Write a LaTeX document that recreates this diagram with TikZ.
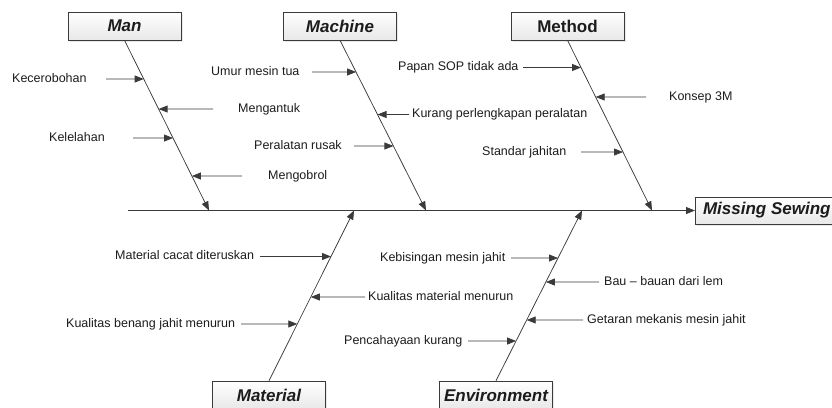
\documentclass[tikz,border=0pt]{standalone}
\usepackage{fontspec}
\setmainfont{Liberation Sans}
\usetikzlibrary{arrows.meta,shadows}
\definecolor{lncol}{HTML}{3A3A3A}
\definecolor{txcol}{HTML}{1C1C1C}
\begin{document}
\begin{tikzpicture}[x=1pt,y=-1pt,
  line/.style={draw=lncol,line width=0.75pt},
  arr/.style={line,-{Triangle[length=9pt,width=7pt]}},
  headbox/.style={draw=lncol,line width=0.6pt,top color=white,bottom color=black!9,
    minimum width=113pt,minimum height=28pt,inner sep=0pt,text=txcol,
    font=\fontsize{17}{20}\selectfont\bfseries\itshape,
    drop shadow={opacity=0.18,shadow xshift=1.5pt,shadow yshift=-1.5pt}},
  lbl/.style={anchor=west,inner sep=0pt,text=txcol,text height=9pt,text depth=2.5pt,
    font=\fontsize{12.5}{14}\selectfont}]
\useasboundingbox (0,0) rectangle (832,407);

% category boxes
\node[headbox] (man) at (124.5,26) {Man};
\node[headbox] (mach) at (340,26) {Machine};
\node[headbox,font=\fontsize{17}{20}\selectfont\bfseries] (meth) at (567.5,26) {Method};
\node[headbox] (mat) at (269,395) {Material};
\node[headbox] (env) at (496,395) {Environment};
\node[headbox,anchor=west,minimum width=143pt,minimum height=27pt] (eff) at (695,210.5) {Missing Sewing};

% spine
\coordinate (sp0) at (128,210.5);
\coordinate (manB) at (209,210.5);
\coordinate (machB) at (426,210.5);
\coordinate (methB) at (652,210.5);
\coordinate (matB) at (354,210.5);
\coordinate (envB) at (582,210.5);
\draw[arr] (sp0) -- (eff.west);

% bones
\draw[arr] (man.south) -- (manB);
\draw[arr] (mach.south) -- (machB);
\draw[arr] (meth.south) -- (methB);
\draw[arr] (mat.north) -- (matB);
\draw[arr] (env.north) -- (envB);

% Man
\node[lbl] (c1) at (12,79) {Kecerobohan};
\coordinate (t1) at (106,79);
\draw[arr] (t1) -- (intersection of t1--c1 and man.south--manB);
\node[lbl] (c2) at (238,109) {Mengantuk};
\coordinate (t2) at (213,109);
\draw[arr] (t2) -- (intersection of t2--c2 and man.south--manB);
\node[lbl] (c3) at (49,138) {Kelelahan};
\coordinate (t3) at (133,138);
\draw[arr] (t3) -- (intersection of t3--c3 and man.south--manB);
\node[lbl] (c4) at (268,176) {Mengobrol};
\coordinate (t4) at (242,176);
\draw[arr] (t4) -- (intersection of t4--c4 and man.south--manB);

% Machine
\node[lbl] (c5) at (211,72) {Umur mesin tua};
\coordinate (t5) at (312,72);
\draw[arr] (t5) -- (intersection of t5--c5 and mach.south--machB);
\node[lbl] (c6) at (412,114.5) {Kurang perlengkapan peralatan};
\coordinate (t6) at (409,114.5);
\draw[arr] (t6) -- (intersection of t6--c6 and mach.south--machB);
\node[lbl] (c7) at (254,146) {Peralatan rusak};
\coordinate (t7) at (354,146);
\draw[arr] (t7) -- (intersection of t7--c7 and mach.south--machB);

% Method
\node[lbl] (c8) at (398,67.5) {Papan SOP tidak ada};
\coordinate (t8) at (523,67.5);
\draw[arr] (t8) -- (intersection of t8--c8 and meth.south--methB);
\node[lbl] (c9) at (669,97) {Konsep 3M};
\coordinate (t9) at (646,97);
\draw[arr] (t9) -- (intersection of t9--c9 and meth.south--methB);
\node[lbl] (c10) at (482,152) {Standar jahitan};
\coordinate (t10) at (581,152);
\draw[arr] (t10) -- (intersection of t10--c10 and meth.south--methB);

% Material
\node[lbl] (c11) at (115,256.5) {Material cacat diteruskan};
\coordinate (t11) at (260,256.5);
\draw[arr] (t11) -- (intersection of t11--c11 and mat.north--matB);
\node[lbl] (c12) at (368,297) {Kualitas material menurun};
\coordinate (t12) at (365,297);
\draw[arr] (t12) -- (intersection of t12--c12 and mat.north--matB);
\node[lbl] (c13) at (66,324) {Kualitas benang jahit menurun};
\coordinate (t13) at (241,324);
\draw[arr] (t13) -- (intersection of t13--c13 and mat.north--matB);

% Environment
\node[lbl] (c14) at (380,258) {Kebisingan mesin jahit};
\coordinate (t14) at (511,258);
\draw[arr] (t14) -- (intersection of t14--c14 and env.north--envB);
\node[lbl] (c15) at (604,282) {Bau -- bauan dari lem};
\coordinate (t15) at (599,282);
\draw[arr] (t15) -- (intersection of t15--c15 and env.north--envB);
\node[lbl] (c16) at (587,320) {Getaran mekanis mesin jahit};
\coordinate (t16) at (583,320);
\draw[arr] (t16) -- (intersection of t16--c16 and env.north--envB);
\node[lbl] (c17) at (344,341) {Pencahayaan kurang};
\coordinate (t17) at (468,341);
\draw[arr] (t17) -- (intersection of t17--c17 and env.north--envB);
\end{tikzpicture}
\end{document}
